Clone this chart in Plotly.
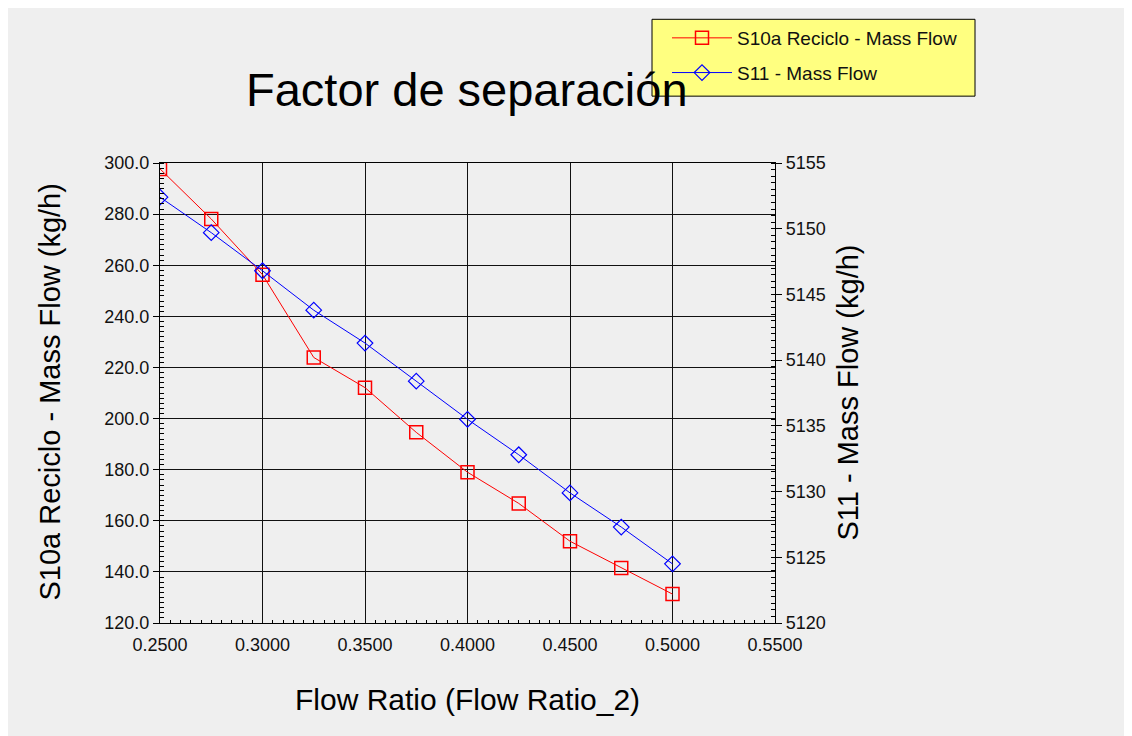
import plotly.graph_objects as go

flow_ratio = [0.25, 0.275, 0.30, 0.325, 0.35, 0.375, 0.40, 0.425, 0.45, 0.475, 0.50]
s10a_mass_flow = [297.7, 278.1, 256.3, 223.9, 212.1, 194.6, 179.0, 166.8, 152.0, 141.5, 131.3]
s11_mass_flow = [5152.4, 5149.7, 5146.8, 5143.8, 5141.3, 5138.4, 5135.5, 5132.8, 5129.9, 5127.3, 5124.5]

title_text = "Factor de separación"
series_names = ["S10a Reciclo - Mass Flow", "S11 - Mass Flow"]
x_title = "Flow Ratio (Flow Ratio_2)"
y_title = "S10a Reciclo - Mass Flow (kg/h)"
y2_title = "S11 - Mass Flow (kg/h)"

OFF = 8  # page body margin
W, H = 1132 - OFF, 736 - OFF
L, R, T, B = 160 - OFF, 775 - OFF, 162 - OFF, 623 - OFF
pw, ph = R - L, B - T

def px(x):
    return (x - OFF - L) / pw

def py(y):
    return (B - (y - OFF)) / ph

tickfont = dict(family="Liberation Sans, Arial", size=18, color="#111")
ytitlefont = dict(family="Liberation Sans, Arial", size=29, color="black")
xtitlefont = dict(family="Liberation Sans, Arial", size=30, color="black")

fig = go.Figure()
fig.add_trace(go.Scatter(
    x=flow_ratio, y=s10a_mass_flow, name=series_names[0], mode="lines+markers",
    line=dict(color="#ff0000", width=1),
    marker=dict(symbol="square-open", size=13, color="#ff0000", line=dict(width=1.5)),
    legendgroup="a", yaxis="y"))
fig.add_trace(go.Scatter(
    x=flow_ratio, y=s11_mass_flow, name=series_names[1], mode="lines+markers",
    line=dict(color="#0000ff", width=1),
    marker=dict(symbol="diamond-open", size=12, color="#0000ff", line=dict(width=1.2)),
    legendgroup="b", yaxis="y2"))

fig.update_layout(
    width=W, height=H,
    margin=dict(l=L, r=W - R, t=T, b=H - B, pad=0),
    paper_bgcolor="#efefef", plot_bgcolor="#efefef",
    showlegend=True,
    legend=dict(
        x=px(667), y=py(19), xanchor="left", yanchor="top",
        bgcolor="rgba(0,0,0,0)", borderwidth=0,
        font=dict(family="Liberation Sans, Arial", size=19, color="#111"),
        tracegroupgap=7, itemwidth=60,
    ),
    xaxis=dict(
        range=[0.25, 0.55], dtick=0.05, tick0=0.25, tickformat=".4f",
        showgrid=True, gridcolor="#111", gridwidth=1.4,
        showline=True, linecolor="black", linewidth=1.4, mirror=True,
        ticks="", tickfont=tickfont, ticklabelstandoff=5,
        minor=dict(dtick=0.005, tick0=0.25, ticks="inside", ticklen=3, tickcolor="black", showgrid=False),
        zeroline=False,
    ),
    yaxis=dict(
        range=[120, 300], dtick=20, tick0=120, tickformat=".1f",
        showgrid=True, gridcolor="#111", gridwidth=1.4,
        showline=True, linecolor="black", linewidth=1.4, mirror=True,
        ticks="outside", ticklen=6, tickcolor="black", tickfont=tickfont,
        minor=dict(dtick=2, tick0=120, ticks="inside", ticklen=4, tickcolor="black", showgrid=False),
        zeroline=False,
    ),
    yaxis2=dict(
        range=[5120, 5155], dtick=5, tick0=5120, tickformat="d",
        overlaying="y", side="right", showgrid=False,
        showline=True, linecolor="black", linewidth=1.4,
        ticks="outside", ticklen=6, tickcolor="black", tickfont=tickfont,
        minor=dict(dtick=0.5, tick0=5120, ticks="inside", ticklen=4, tickcolor="black", showgrid=False),
        zeroline=False,
    ),
    annotations=[
        dict(text=title_text, x=px(467), y=py(88), xref="paper", yref="paper",
             showarrow=False, xanchor="center", yanchor="middle",
             font=dict(family="Liberation Sans, Arial", size=47, color="black")),
        dict(text=y_title, x=px(50), y=py(392), xref="paper", yref="paper",
             showarrow=False, textangle=-90, xanchor="center", yanchor="middle", font=ytitlefont),
        dict(text=y2_title, x=px(848), y=py(392), xref="paper", yref="paper",
             showarrow=False, textangle=-90, xanchor="center", yanchor="middle", font=ytitlefont),
        dict(text=x_title, x=px(467), y=py(700), xref="paper", yref="paper",
             showarrow=False, xanchor="center", yanchor="middle", font=xtitlefont),
    ],
    shapes=[
        dict(type="rect", xref="paper", yref="paper", x0=px(652), x1=px(975), y0=py(95), y1=py(18),
             fillcolor="#ffff80", line=dict(width=1, color="black"), layer="below"),
    ],
)

fig.write_html("out.html")
